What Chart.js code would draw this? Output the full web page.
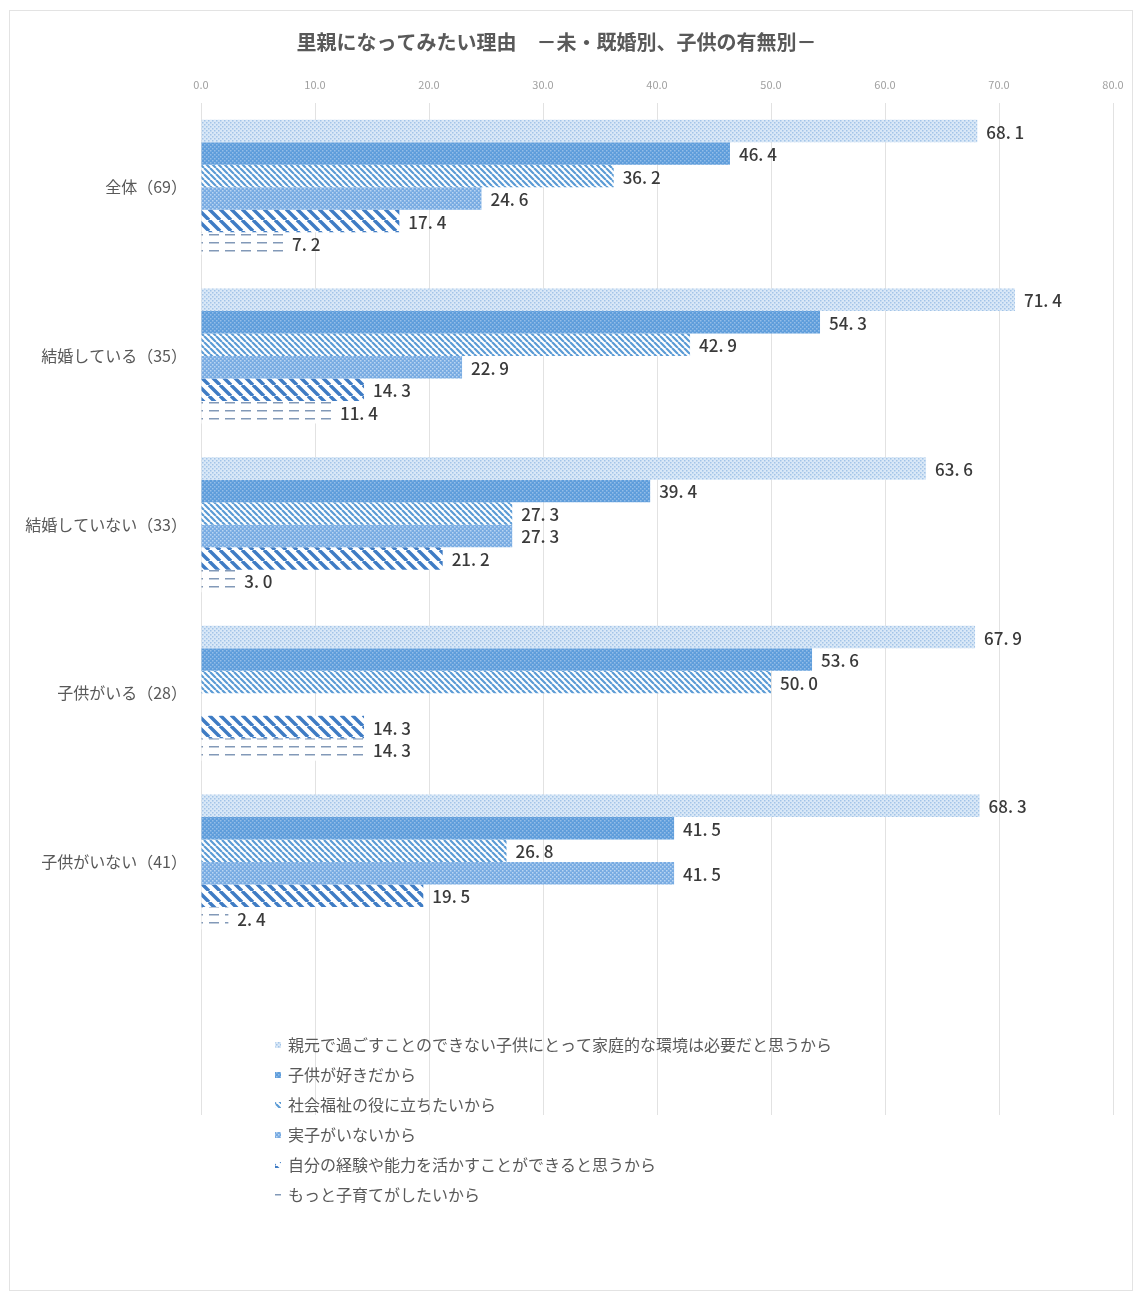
<!DOCTYPE html>
<html lang="ja">
<head>
<meta charset="utf-8">
<title>里親になってみたい理由</title>
<script src="https://cdn.jsdelivr.net/npm/chart.js@4.4.1/dist/chart.umd.min.js"></script>
<style>
  html, body { margin: 0; padding: 0; background: #fff; }
  #wrap { position: relative; width: 1137px; height: 1297px; }
  #frame { position: absolute; left: 9px; top: 10px; width: 1122px; height: 1279px; border: 1px solid #e3e3e3; }
  #chart { position: absolute; left: 0; top: 0; }
</style>
</head>
<body>
<div id="wrap">
  <div id="frame"></div>
  <canvas id="chart" width="1137" height="1297"></canvas>
</div>
<script>
// カテゴリ（最後は空欄の行）
const categories = ["全体（69）", "結婚している（35）", "結婚していない（33）", "子供がいる（28）", "子供がいない（41）", ""];

const seriesNames = [
  "親元で過ごすことのできない子供にとって家庭的な環境は必要だと思うから",
  "子供が好きだから",
  "社会福祉の役に立ちたいから",
  "実子がいないから",
  "自分の経験や能力を活かすことができると思うから",
  "もっと子育てがしたいから"
];

// 各理由の割合（%）
const homeEnv   = [68.1, 71.4, 63.6, 67.9, 68.3, null];
const likeKids  = [46.4, 54.3, 39.4, 53.6, 41.5, null];
const welfare   = [36.2, 42.9, 27.3, 50.0, 26.8, null];
const noChild   = [24.6, 22.9, 27.3, null, 41.5, null];
const useSkills = [17.4, 14.3, 21.2, 14.3, 19.5, null];
const moreKids  = [7.2, 11.4, 3.0, 14.3, 2.4, null];

const xTicks = [0, 10, 20, 30, 40, 50, 60, 70, 80];

// パターン作成
function tile(w, h, draw) {
  const c = document.createElement("canvas");
  c.width = w; c.height = h;
  const g = c.getContext("2d");
  draw(g, w, h);
  return document.getElementById("chart").getContext("2d").createPattern(c, "repeat");
}

function dots(bg, fg, size) {
  return tile(size, size, (g, w, h) => {
    g.fillStyle = bg; g.fillRect(0, 0, w, h);
    g.fillStyle = fg; g.fillRect(0, 0, 1.5, 1.5);
    g.fillRect(w / 2, h / 2, 1.5, 1.5);
  });
}

function stripes(bg, fg, s, lw) {
  return tile(s, s, (g, w, h) => {
    g.fillStyle = bg; g.fillRect(0, 0, w, h);
    g.strokeStyle = fg; g.lineWidth = lw;
    g.beginPath();
    for (const k of [-s, 0, s]) { g.moveTo(k, 0); g.lineTo(k + s, s); }
    g.stroke();
  });
}

const patterns = [
  dots("#d9e8f7", "#a3c4e8", 4),
  dots("#5e9ddb", "#93bde8", 4),
  stripes("#ffffff", "#5b9bd5", 6, 2.2),
  dots("#78abe2", "#b9d5f2", 4),
  stripes("#ffffff", "#3f7cc4", 11, 3.5),
  tile(16, 8, (g, w, h) => {
    g.fillStyle = "#ffffff"; g.fillRect(0, 0, w, h);
    g.fillStyle = "#8299b8"; g.fillRect(1, 2, 10, 1.5);
  })
];

const seriesValues = [homeEnv, likeKids, welfare, noChild, useSkills, moreKids];

// 値ラベル
const valueLabels = {
  id: "valueLabels",
  afterDatasetsDraw(chart) {
    const ctx = chart.ctx;
    ctx.save();
    ctx.font = "500 17px 'Noto Sans CJK JP'";
    ctx.fillStyle = "#3a3a3a";
    ctx.textBaseline = "middle";
    ctx.textAlign = "left";
    chart.data.datasets.forEach((ds, i) => {
      chart.getDatasetMeta(i).data.forEach((bar, j) => {
        const v = ds.data[j];
        if (v === null || v === undefined) return;
        ctx.fillText(v.toFixed(1).replace(".", ". "), bar.x + 9, bar.y + 1);
      });
    });
    ctx.restore();
  }
};

// 凡例（プロット内下部）
const innerLegend = {
  id: "innerLegend",
  afterDraw(chart) {
    const ctx = chart.ctx;
    ctx.save();
    ctx.font = "16px 'Noto Sans CJK JP'";
    ctx.textBaseline = "middle";
    chart.data.datasets.forEach((ds, i) => {
      const y = 1045 + i * 30;
      ctx.fillStyle = ds.backgroundColor;
      ctx.fillRect(275, y - 3, 6, 6);
      ctx.fillStyle = "#595959";
      ctx.fillText(ds.label, 288, y);
    });
    ctx.restore();
  }
};

new Chart(document.getElementById("chart"), {
  type: "bar",
  data: {
    labels: categories,
    datasets: seriesNames.map((name, i) => ({
      label: name,
      data: seriesValues[i],
      backgroundColor: patterns[i],
      borderWidth: 0,
      barPercentage: 1,
      categoryPercentage: 0.8
    }))
  },
  options: {
    indexAxis: "y",
    responsive: false,
    animation: false,
    layout: { padding: { left: 0, right: 24, top: 0, bottom: 182 } },
    plugins: {
      legend: { display: false },
      tooltip: { enabled: false },
      title: {
        display: true,
        text: "里親になってみたい理由　－未・既婚別、子供の有無別－",
        color: "#595959",
        font: { family: "'Noto Sans CJK JP'", size: 20, weight: "bold" },
        padding: { top: 30, bottom: 8 }
      }
    },
    scales: {
      x: {
        position: "top",
        min: 0,
        max: 80,
        afterBuildTicks: (s) => { s.ticks = xTicks.map(v => ({ value: v })); },
        afterFit: (s) => { s.height = 41; },
        ticks: {
          color: "#a0a0a0",
          padding: 12,
          font: { family: "'Noto Sans CJK JP'", size: 11 },
          callback: (v) => Number(v).toFixed(1)
        },
        grid: { color: "#e2e2e2", drawTicks: false },
        border: { display: false }
      },
      y: {
        afterFit: (s) => { s.width = 201; },
        ticks: {
          color: "#595959",
          padding: 6,
          font: { family: "'Noto Sans CJK JP'", size: 16 }
        },
        grid: { display: false },
        border: { display: false }
      }
    }
  },
  plugins: [valueLabels, innerLegend]
});
</script>
</body>
</html>
